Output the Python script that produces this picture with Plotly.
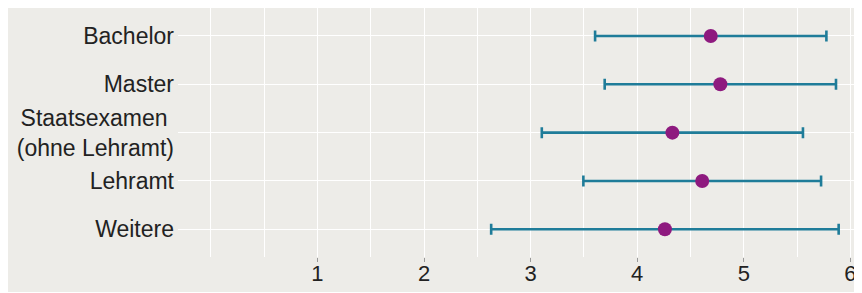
import plotly.graph_objects as go

categories = ["Bachelor", "Master", "Staatsexamen\u00a0<br>(ohne Lehramt)", "Lehramt", "Weitere"]
means = [4.69, 4.78, 4.33, 4.61, 4.26]
errors = [1.085, 1.085, 1.225, 1.115, 1.63]
tick_vals = [1, 2, 3, 4, 5, 6]
tick_text = ["1", "2", "3", "4", "5", "6"]

BG = "#EDECE8"
PURPLE = "#8E1A7F"
TEAL = "#1F7C99"

n = len(categories)
ypos = [n - 1 - i for i in range(n)]

fig = go.Figure()
fig.add_trace(go.Scatter(
    x=means, y=ypos, mode="markers",
    marker=dict(color=PURPLE, size=14, line=dict(width=0)),
    error_x=dict(type="data", array=errors, visible=True, color=TEAL, thickness=2.6, width=5.5),
    showlegend=False, hoverinfo="x+y",
))

fig.update_layout(
    width=854, height=284,
    margin=dict(l=170, r=0, t=0, b=35),
    paper_bgcolor=BG,
    plot_bgcolor=BG,
    font=dict(family="Liberation Sans, Arial, sans-serif", size=23, color="#222222"),
)
fig.update_xaxes(
    range=[-0.308, 6.109], tickvals=tick_vals, ticktext=tick_text,
    showgrid=True, gridcolor="white", gridwidth=1.2, zeroline=False,
    ticks="outside", ticklen=4, tickcolor="#999999", tickwidth=1,
    minor=dict(dtick=0.5, tick0=0, showgrid=True, gridcolor="white", gridwidth=1, ticks=""),
    showline=False, tickfont=dict(size=22, color="#222222"),
    automargin=False, ticklabelstandoff=-7,
)
fig.update_yaxes(
    range=[-0.573, 4.579], tickvals=ypos, ticktext=categories,
    showgrid=True, gridcolor="white", gridwidth=1.2, zeroline=False,
    ticks="", showline=False, ticklabelstandoff=3,
    tickfont=dict(size=23, color="#222222"), automargin=False,
)

fig.write_html("out.html")
